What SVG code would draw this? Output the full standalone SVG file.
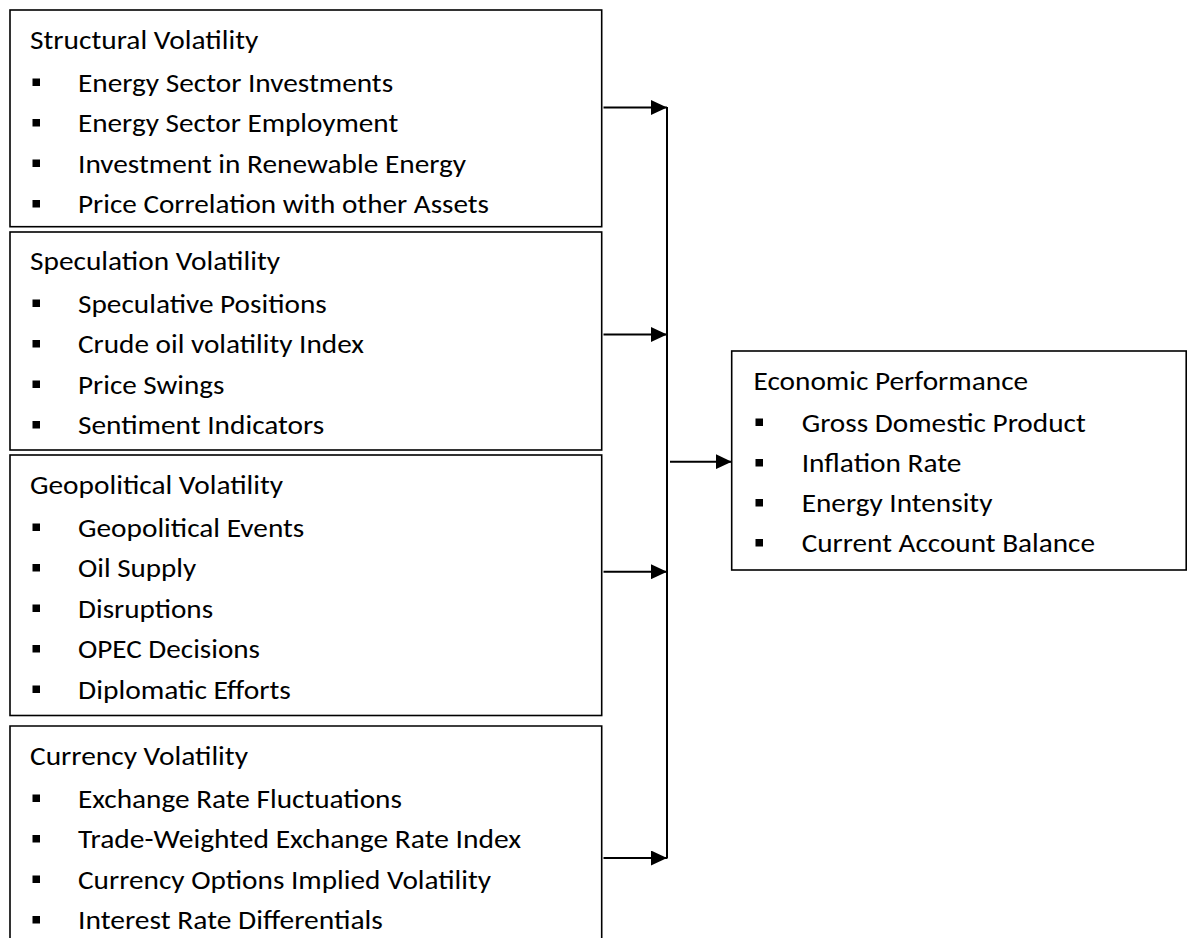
<svg xmlns="http://www.w3.org/2000/svg" width="1189" height="938" viewBox="0 0 1189 938">
  <style>
    .box { fill: #ffffff; stroke: #000000; stroke-width: 1.6; }
    .t { font-family: Carlito, Calibri, Lato, "Liberation Sans", sans-serif; font-size: 26px; fill: #000000; }
    .bullet { fill: #000000; }
    .wire { fill: none; stroke: #000000; stroke-width: 2; }
  </style>
  <defs>
    <marker id="head" viewBox="0 0 16 15" refX="16" refY="7.5" markerWidth="16" markerHeight="15" markerUnits="userSpaceOnUse" orient="auto">
      <path d="M0,0 L16,7.5 L0,15 Z" fill="#000000"/>
    </marker>
  </defs>

  <rect width="1189" height="938" fill="#ffffff"/>

  <!-- Structural volatility -->
  <g id="structural">
    <rect class="box" x="10" y="10" width="591.7" height="216.7"/>
    <text class="t" x="30" y="49" textLength="228.3" lengthAdjust="spacingAndGlyphs">Structural Volatility</text>
    <rect class="bullet" x="32.5" y="78.5" width="7.5" height="7.5"/>
    <text class="t" x="78" y="91.5" textLength="315.1" lengthAdjust="spacingAndGlyphs">Energy Sector Investments</text>
    <rect class="bullet" x="32.5" y="119" width="7.5" height="7.5"/>
    <text class="t" x="78" y="132" textLength="320.2" lengthAdjust="spacingAndGlyphs">Energy Sector Employment</text>
    <rect class="bullet" x="32.5" y="159.5" width="7.5" height="7.5"/>
    <text class="t" x="78" y="172.5" textLength="388.1" lengthAdjust="spacingAndGlyphs">Investment in Renewable Energy</text>
    <rect class="bullet" x="32.5" y="200" width="7.5" height="7.5"/>
    <text class="t" x="78" y="213" textLength="411" lengthAdjust="spacingAndGlyphs">Price Correlation with other Assets</text>
  </g>

  <!-- Speculation volatility -->
  <g id="speculation">
    <rect class="box" x="10" y="232" width="591.7" height="218"/>
    <text class="t" x="30" y="270" textLength="250" lengthAdjust="spacingAndGlyphs">Speculation Volatility</text>
    <rect class="bullet" x="32.5" y="299.5" width="7.5" height="7.5"/>
    <text class="t" x="78" y="312.5" textLength="248.8" lengthAdjust="spacingAndGlyphs">Speculative Positions</text>
    <rect class="bullet" x="32.5" y="340" width="7.5" height="7.5"/>
    <text class="t" x="78" y="353" textLength="285.9" lengthAdjust="spacingAndGlyphs">Crude oil volatility Index</text>
    <rect class="bullet" x="32.5" y="380.5" width="7.5" height="7.5"/>
    <text class="t" x="78" y="393.5" textLength="146.4" lengthAdjust="spacingAndGlyphs">Price Swings</text>
    <rect class="bullet" x="32.5" y="421" width="7.5" height="7.5"/>
    <text class="t" x="78" y="434" textLength="246.3" lengthAdjust="spacingAndGlyphs">Sentiment Indicators</text>
  </g>

  <!-- Geopolitical volatility -->
  <g id="geopolitical">
    <rect class="box" x="10" y="455" width="591.7" height="260.5"/>
    <text class="t" x="30" y="494" textLength="253.1" lengthAdjust="spacingAndGlyphs">Geopolitical Volatility</text>
    <rect class="bullet" x="32.5" y="523.5" width="7.5" height="7.5"/>
    <text class="t" x="78" y="536.5" textLength="226.3" lengthAdjust="spacingAndGlyphs">Geopolitical Events</text>
    <rect class="bullet" x="32.5" y="564" width="7.5" height="7.5"/>
    <text class="t" x="78" y="577" textLength="118.2" lengthAdjust="spacingAndGlyphs">Oil Supply</text>
    <rect class="bullet" x="32.5" y="604.5" width="7.5" height="7.5"/>
    <text class="t" x="78" y="617.5" textLength="135.1" lengthAdjust="spacingAndGlyphs">Disruptions</text>
    <rect class="bullet" x="32.5" y="645" width="7.5" height="7.5"/>
    <text class="t" x="78" y="658" textLength="182" lengthAdjust="spacingAndGlyphs">OPEC Decisions</text>
    <rect class="bullet" x="32.5" y="685.5" width="7.5" height="7.5"/>
    <text class="t" x="78" y="698.5" textLength="212.9" lengthAdjust="spacingAndGlyphs">Diplomatic Efforts</text>
  </g>

  <!-- Currency volatility (runs past the lower edge) -->
  <g id="currency">
    <path class="box" d="M10,945 L10,726 L601.7,726 L601.7,945"/>
    <text class="t" x="30" y="765" textLength="218" lengthAdjust="spacingAndGlyphs">Currency Volatility</text>
    <rect class="bullet" x="32.5" y="794.5" width="7.5" height="7.5"/>
    <text class="t" x="78" y="807.5" textLength="323.9" lengthAdjust="spacingAndGlyphs">Exchange Rate Fluctuations</text>
    <rect class="bullet" x="32.5" y="835" width="7.5" height="7.5"/>
    <text class="t" x="78" y="848" textLength="443" lengthAdjust="spacingAndGlyphs">Trade-Weighted Exchange Rate Index</text>
    <rect class="bullet" x="32.5" y="875.5" width="7.5" height="7.5"/>
    <text class="t" x="78" y="888.5" textLength="413.1" lengthAdjust="spacingAndGlyphs">Currency Options Implied Volatility</text>
    <rect class="bullet" x="32.5" y="916" width="7.5" height="7.5"/>
    <text class="t" x="78" y="929" textLength="304.9" lengthAdjust="spacingAndGlyphs">Interest Rate Differentials</text>
  </g>

  <!-- Economic performance -->
  <g id="economic">
    <rect class="box" x="731.7" y="351" width="454.5" height="219"/>
    <text class="t" x="753.5" y="390" textLength="274.6" lengthAdjust="spacingAndGlyphs">Economic Performance</text>
    <rect class="bullet" x="755.5" y="418.5" width="7.5" height="7.5"/>
    <text class="t" x="801.7" y="431.5" textLength="284" lengthAdjust="spacingAndGlyphs">Gross Domestic Product</text>
    <rect class="bullet" x="755.5" y="459" width="7.5" height="7.5"/>
    <text class="t" x="801.7" y="472" textLength="159.7" lengthAdjust="spacingAndGlyphs">Inflation Rate</text>
    <rect class="bullet" x="755.5" y="499" width="7.5" height="7.5"/>
    <text class="t" x="801.7" y="512" textLength="190.7" lengthAdjust="spacingAndGlyphs">Energy Intensity</text>
    <rect class="bullet" x="755.5" y="539" width="7.5" height="7.5"/>
    <text class="t" x="801.7" y="552" textLength="293.3" lengthAdjust="spacingAndGlyphs">Current Account Balance</text>
  </g>

  <!-- Connectors: each driver feeds a shared bus that points at the outcome -->
  <g id="connectors">
    <line class="wire" x1="667" y1="107" x2="667" y2="858.5"/>
    <line class="wire" x1="603.5" y1="107.5" x2="667" y2="107.5" marker-end="url(#head)"/>
    <line class="wire" x1="603.5" y1="334.5" x2="667" y2="334.5" marker-end="url(#head)"/>
    <line class="wire" x1="603.5" y1="571.7" x2="667" y2="571.7" marker-end="url(#head)"/>
    <line class="wire" x1="603.5" y1="858" x2="667" y2="858" marker-end="url(#head)"/>
    <line class="wire" x1="670" y1="461.7" x2="731.7" y2="461.7" marker-end="url(#head)"/>
  </g>
</svg>
